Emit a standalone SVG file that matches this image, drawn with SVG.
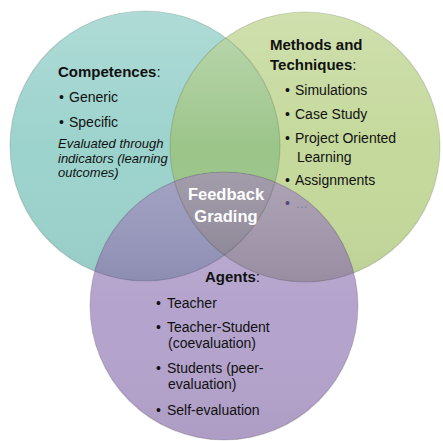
<svg xmlns="http://www.w3.org/2000/svg" width="443" height="441" viewBox="0 0 443 441">
  <style>
    .t { font-family: "Liberation Sans", Arial, sans-serif; fill: #111; }
    .h { font-size: 15px; font-weight: bold; }
    .b { font-size: 14px; }
    .i { font-size: 13px; font-style: italic; }
    .c { font-size: 16.5px; font-weight: bold; fill: #ffffff; text-anchor: middle; }
    .edge { fill: none; stroke: #000; stroke-opacity: 0.13; stroke-width: 1.2; }
  </style>
  <defs>
    <clipPath id="clipTeal"><circle cx="145" cy="146" r="135"/></clipPath>
    <clipPath id="clipGreen"><circle cx="305" cy="147" r="135"/></clipPath>
    <linearGradient id="shine" x1="0" y1="0" x2="0" y2="1">
      <stop offset="0" stop-color="#ffffff" stop-opacity="0.18"/>
      <stop offset="0.5" stop-color="#ffffff" stop-opacity="0"/>
      <stop offset="1" stop-color="#000000" stop-opacity="0.04"/>
    </linearGradient>
  </defs>

  <rect width="443" height="441" fill="#ffffff"/>

  <g id="circles">
    <circle id="circle-competences" cx="145" cy="146" r="135" fill="#9dd3cd"/>
    <circle id="circle-methods" cx="305" cy="147" r="135" fill="#c5d99c"/>
    <circle id="circle-agents" cx="224" cy="306" r="134" fill="#b4a3cc"/>
  </g>

  <g id="overlaps">
    <circle cx="305" cy="147" r="135" fill="#9cc58a" clip-path="url(#clipTeal)"/>
    <circle cx="224" cy="306" r="134" fill="#8e8fb6" clip-path="url(#clipTeal)"/>
    <circle cx="224" cy="306" r="134" fill="#9b8fa5" clip-path="url(#clipGreen)"/>
    <g clip-path="url(#clipTeal)">
      <circle cx="224" cy="306" r="134" fill="#8c8597" clip-path="url(#clipGreen)"/>
    </g>
  </g>

  <g id="edges">
    <circle cx="145" cy="146" r="135" fill="url(#shine)"/>
    <circle cx="305" cy="147" r="135" fill="url(#shine)"/>
    <circle cx="224" cy="306" r="134" fill="url(#shine)"/>
    <circle class="edge" cx="145" cy="146" r="135"/>
    <circle class="edge" cx="305" cy="147" r="135"/>
    <circle class="edge" cx="224" cy="306" r="134"/>
  </g>

  <g id="competences">
    <text class="t h" x="58" y="77">Competences<tspan font-weight="normal">:</tspan></text>
    <text class="t b" x="59" y="102">•</text>
    <text class="t b" x="69" y="102">Generic</text>
    <text class="t b" x="59" y="127">•</text>
    <text class="t b" x="69" y="127">Specific</text>
    <text class="t i" x="58" y="148">Evaluated through</text>
    <text class="t i" x="58" y="163">indicators (learning</text>
    <text class="t i" x="58" y="177">outcomes)</text>
  </g>

  <g id="methods">
    <text class="t h" x="270" y="50">Methods and</text>
    <text class="t h" x="270" y="70">Techniques<tspan font-weight="normal">:</tspan></text>
    <text class="t b" x="285" y="95">•</text>
    <text class="t b" x="295" y="95">Simulations</text>
    <text class="t b" x="285" y="119">•</text>
    <text class="t b" x="295" y="119">Case Study</text>
    <text class="t b" x="285" y="143">•</text>
    <text class="t b" x="295" y="143">Project Oriented</text>
    <text class="t b" x="297" y="162">Learning</text>
    <text class="t b" x="285" y="185">•</text>
    <text class="t b" x="295" y="185">Assignments</text>
    <text class="t b" x="285" y="208" style="fill:#55477a">•</text>
    <text class="t b" x="296" y="208" style="fill:#8a7fa0">...</text>
  </g>

  <g id="center-label">
    <text class="t c" x="226" y="200">Feedback</text>
    <text class="t c" x="226" y="222">Grading</text>
  </g>

  <g id="agents">
    <text class="t h" x="205" y="282">Agents<tspan font-weight="normal">:</tspan></text>
    <text class="t b" x="156" y="308">•</text>
    <text class="t b" x="167" y="308">Teacher</text>
    <text class="t b" x="156" y="332">•</text>
    <text class="t b" x="167" y="332">Teacher-Student</text>
    <text class="t b" x="168" y="348">(coevaluation)</text>
    <text class="t b" x="156" y="373">•</text>
    <text class="t b" x="167" y="373">Students (peer-</text>
    <text class="t b" x="168" y="389">evaluation)</text>
    <text class="t b" x="156" y="415">•</text>
    <text class="t b" x="167" y="415">Self-evaluation</text>
  </g>
</svg>
